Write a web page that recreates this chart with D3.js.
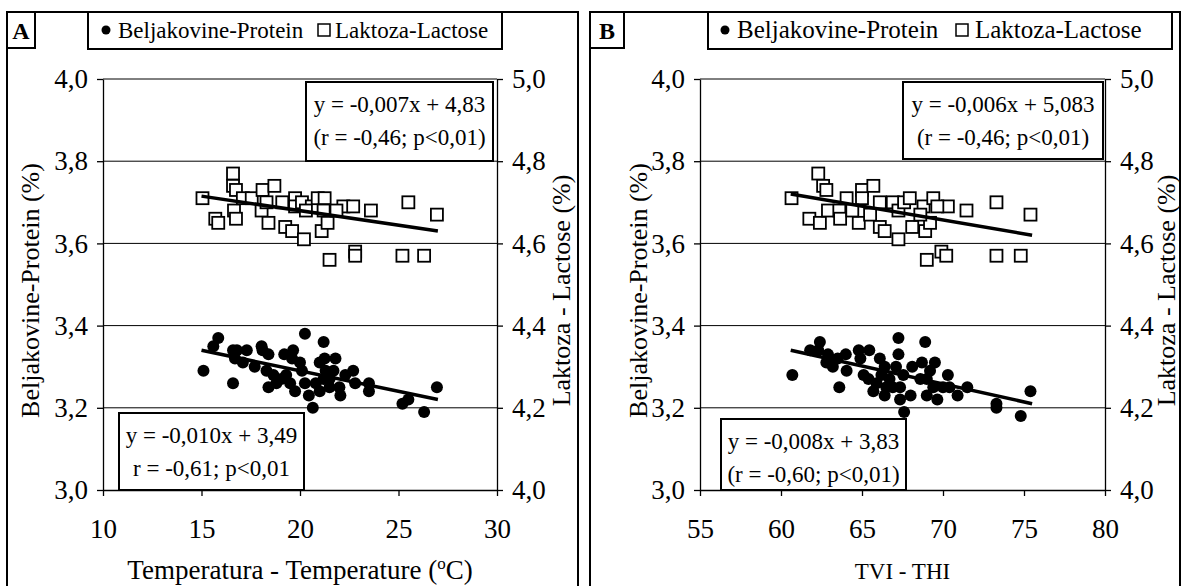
<!DOCTYPE html>
<html lang="en">
<head>
<meta charset="UTF-8">
<script src="https://d3js.org/d3.v7.min.js"></script>
<title>Protein and lactose vs temperature and THI</title>
<style>
  body { margin: 0; background: #fff; }
  svg text { font-family: "Liberation Serif", "Times New Roman", serif; fill: #000; }
</style>
</head>
<body>
<svg id="chart" width="1187" height="586"></svg>
<script>
// ---- data ----
// panel A: temperature (°C)
const tempProtein = [[15.1,3.29],[15.6,3.35],[15.85,3.37],[16.6,3.34],[16.8,3.34],[16.7,3.32],[17.1,3.31],[17.3,3.34],[16.6,3.26],[17.7,3.30],
  [18.05,3.35],[18.1,3.34],[18.4,3.33],[18.3,3.29],[18.65,3.28],[18.4,3.25],[18.8,3.26],[19.2,3.33],[19.3,3.28],[19.65,3.34],
  [19.6,3.32],[19.5,3.26],[19.75,3.24],[20.0,3.31],[20.1,3.29],[20.25,3.38],[20.25,3.26],[20.45,3.23],[20.65,3.20],[21.0,3.31],
  [21.2,3.36],[21.25,3.32],[21.0,3.24],[21.3,3.29],[21.2,3.27],[21.5,3.25],[21.7,3.29],[21.8,3.32],[22.0,3.25],[22.05,3.23],
  [22.3,3.28],[22.7,3.29],[22.8,3.26],[23.5,3.26],[23.5,3.24],[25.2,3.21],[25.5,3.22],[26.3,3.19],[26.95,3.25],[19.05,3.27],
  [20.8,3.26],[21.5,3.27]];
const tempLactose = [[15.05,4.71],[16.6,4.77],[16.6,4.74],[16.75,4.73],[15.7,4.66],[15.85,4.65],[16.65,4.68],[16.75,4.66],[17.1,4.71],[17.55,4.71],
  [18.1,4.73],[18.7,4.74],[18.05,4.68],[18.4,4.65],[18.3,4.70],[19.1,4.70],[19.25,4.64],[19.6,4.63],[19.75,4.71],[19.75,4.69],
  [20.1,4.70],[20.2,4.61],[20.6,4.69],[20.9,4.71],[21.25,4.71],[21.2,4.68],[21.1,4.63],[21.4,4.65],[21.5,4.56],[22.2,4.69],
  [22.7,4.69],[22.8,4.58],[22.8,4.57],[23.6,4.68],[25.5,4.70],[25.2,4.57],[26.3,4.57],[26.95,4.67],[21.85,4.68],[20.3,4.68]];
const tempTrendProtein = [[15.0,3.34],[27.0,3.22]];
const tempTrendLactose = [[15.0,4.715],[27.0,4.63]];

// panel B: THI
const thiProtein = [[60.7,3.28],[61.8,3.34],[62.4,3.36],[62.3,3.34],[62.9,3.33],[62.8,3.31],[63.2,3.30],[63.6,3.25],[63.5,3.32],[64.0,3.33],
  [64.05,3.29],[64.8,3.34],[64.9,3.32],[65.45,3.34],[65.1,3.28],[65.4,3.27],[66.1,3.32],[66.4,3.30],[65.7,3.24],[65.9,3.26],
  [66.4,3.23],[66.5,3.25],[66.9,3.25],[67.25,3.37],[67.25,3.33],[67.1,3.30],[67.35,3.25],[67.35,3.22],[67.6,3.19],[67.55,3.28],
  [68.0,3.23],[68.1,3.30],[68.7,3.31],[68.9,3.36],[69.2,3.29],[69.5,3.31],[69.0,3.27],[69.0,3.23],[69.4,3.25],[69.65,3.22],
  [70.0,3.25],[70.3,3.28],[70.4,3.25],[70.9,3.23],[71.5,3.25],[73.3,3.21],[73.3,3.20],[74.8,3.18],[75.4,3.24],[68.6,3.27],
  [66.2,3.28],[66.7,3.27]];
const thiLactose = [[60.65,4.71],[62.3,4.77],[62.6,4.74],[62.8,4.73],[61.75,4.66],[62.4,4.65],[62.9,4.68],[63.6,4.68],[63.65,4.66],[64.05,4.71],
  [64.8,4.65],[65.0,4.73],[65.7,4.74],[65.0,4.71],[65.5,4.67],[66.1,4.70],[66.1,4.64],[66.4,4.63],[66.9,4.70],[67.25,4.61],
  [67.25,4.68],[67.6,4.70],[68.1,4.64],[67.95,4.71],[68.8,4.69],[69.4,4.71],[68.9,4.63],[69.2,4.65],[69.0,4.56],[69.9,4.58],
  [70.2,4.57],[70.3,4.69],[69.65,4.69],[71.45,4.68],[73.3,4.70],[73.3,4.57],[74.8,4.57],[75.4,4.67],[68.6,4.67],[64.4,4.68]];
const thiTrendProtein = [[60.6,3.34],[75.5,3.21]];
const thiTrendLactose = [[60.6,4.72],[75.5,4.62]];

const proteinTicks = [3.0,3.2,3.4,3.6,3.8,4.0];
const lactoseTicks = [4.0,4.2,4.4,4.6,4.8,5.0];
const tempTicks = [10,15,20,25,30];
const thiTicks = [55,60,65,70,75,80];

const legendLabels = ["Beljakovine-Protein", "Laktoza-Lactose"];
const leftTitle = "Beljakovine-Protein (%)";
const rightTitle = "Laktoza - Lactose (%)";

// ---- layout ----
const serif = '"Liberation Serif", "Times New Roman", serif';
const panels = [
  {
    letter: "A", frame: [7, 12, 578], letterBox: [7, 35],
    legendBox: [88, 502], legend: { size: 23, dot: 18, t1: 30, sq: 230, t2: 247 },
    xDomain: [10, 30], xTicks: tempTicks, xRange: [103, 497],
    protein: tempProtein, lactose: tempLactose,
    trendP: tempTrendProtein, trendL: tempTrendLactose,
    xTitle: ["Temperatura - Temperature (", "o", "C)"], xTitleSize: 27,
    leftTitleX: 30, rightTitleX: 561,
    eqTop: { box: [306, 82, 493, 161], lines: ["y = -0,007x + 4,83", "(r = -0,46; p<0,01)"] },
    eqBot: { box: [119, 413, 304, 490], lines: ["y = -0,010x + 3,49", "r = -0,61; p<0,01"] }
  },
  {
    letter: "B", frame: [590, 12, 1180], letterBox: [590, 624],
    legendBox: [708, 1172], legend: { size: 25, dot: 17, t1: 29, sq: 248, t2: 267 },
    xDomain: [55, 80], xTicks: thiTicks, xRange: [700, 1105],
    protein: thiProtein, lactose: thiLactose,
    trendP: thiTrendProtein, trendL: thiTrendLactose,
    xTitle: ["TVI - THI"], xTitleSize: 23,
    leftTitleX: 638, rightTitleX: 1166,
    eqTop: { box: [903, 82, 1103, 159], lines: ["y = -0,006x + 5,083", "(r = -0,46; p<0,01)"] },
    eqBot: { box: [721, 419, 906, 490], lines: ["y = -0,008x + 3,83", "(r = -0,60; p<0,01)"] }
  }
];

const yTop = 79, yBottom = 490;
const comma = d => d3.format(".1f")(d).replace(".", ",");
const svg = d3.select("#chart");

panels.forEach(p => {
  const g = svg.append("g");
  const x = d3.scaleLinear().domain(p.xDomain).range(p.xRange);
  const yL = d3.scaleLinear().domain([3, 4]).range([yBottom, yTop]);
  const yR = d3.scaleLinear().domain([4, 5]).range([yBottom, yTop]);

  // outer frame (runs off the bottom of the picture)
  g.append("rect")
    .attr("x", p.frame[0]).attr("y", p.frame[1])
    .attr("width", p.frame[2] - p.frame[0]).attr("height", 600)
    .attr("fill", "none").attr("stroke", "#000").attr("stroke-width", 2);

  // panel letter box
  g.append("rect")
    .attr("x", p.letterBox[0]).attr("y", 12)
    .attr("width", p.letterBox[1] - p.letterBox[0]).attr("height", 36)
    .attr("fill", "#fff").attr("stroke", "#000").attr("stroke-width", 2);
  g.append("text")
    .attr("x", (p.letterBox[0] + p.letterBox[1]) / 2).attr("y", 39)
    .attr("text-anchor", "middle").attr("font-size", 24).attr("font-weight", "bold")
    .attr("font-family", serif)
    .text(p.letter);

  // legend
  const lg = p.legend, lx = p.legendBox[0];
  g.append("rect")
    .attr("x", lx).attr("y", 12)
    .attr("width", p.legendBox[1] - lx).attr("height", 37)
    .attr("fill", "#fff").attr("stroke", "#000").attr("stroke-width", 2);
  g.append("circle").attr("cx", lx + lg.dot).attr("cy", 30).attr("r", 4.5).attr("fill", "#000");
  g.append("text").attr("x", lx + lg.t1).attr("y", 38).attr("font-size", lg.size)
    .attr("font-family", serif).text(legendLabels[0]);
  g.append("rect").attr("x", lx + lg.sq).attr("y", 24).attr("width", 12).attr("height", 12)
    .attr("fill", "#fff").attr("stroke", "#000").attr("stroke-width", 1.5);
  g.append("text").attr("x", lx + lg.t2).attr("y", 38).attr("font-size", lg.size)
    .attr("font-family", serif).text(legendLabels[1]);

  // gridlines
  g.append("g").selectAll("line")
    .data(proteinTicks.slice(1))
    .join("line")
    .attr("x1", p.xRange[0]).attr("x2", p.xRange[1])
    .attr("y1", d => yL(d)).attr("y2", d => yL(d))
    .attr("stroke", "#000").attr("stroke-width", 1);

  // axes
  const axisStyle = a => {
    a.attr("font-family", serif);
    a.selectAll("path, line").attr("stroke", "#000").attr("stroke-width", 1.3);
    a.selectAll("text").attr("font-size", 27).attr("font-family", serif);
  };
  g.append("g")
    .attr("transform", `translate(${p.xRange[0]},0)`)
    .call(d3.axisLeft(yL).tickValues(proteinTicks).tickFormat(comma).tickSize(6).tickSizeOuter(0).tickPadding(9))
    .call(axisStyle);
  g.append("g")
    .attr("transform", `translate(${p.xRange[1]},0)`)
    .call(d3.axisRight(yR).tickValues(lactoseTicks).tickFormat(comma).tickSize(6).tickSizeOuter(0).tickPadding(9))
    .call(axisStyle);
  g.append("g")
    .attr("transform", `translate(0,${yBottom})`)
    .call(d3.axisBottom(x).tickValues(p.xTicks).tickFormat(d3.format("d")).tickSize(6).tickSizeOuter(0).tickPadding(23))
    .call(axisStyle);

  // axis titles
  const xt = g.append("text")
    .attr("x", (p.xRange[0] + p.xRange[1]) / 2).attr("y", 579)
    .attr("text-anchor", "middle").attr("font-size", p.xTitleSize).attr("font-family", serif);
  xt.append("tspan").text(p.xTitle[0]);
  if (p.xTitle.length > 1) {
    xt.append("tspan").attr("dy", -10).attr("font-size", 17).text(p.xTitle[1]);
    xt.append("tspan").attr("dy", 10).text(p.xTitle[2]);
  }
  g.append("text")
    .attr("transform", `translate(${p.leftTitleX},${(yTop + yBottom) / 2 + 6}) rotate(-90)`)
    .attr("text-anchor", "middle").attr("dy", "0.35em").attr("font-size", 26)
    .attr("font-family", serif)
    .text(leftTitle);
  g.append("text")
    .attr("transform", `translate(${p.rightTitleX},${(yTop + yBottom) / 2 + 6}) rotate(-90)`)
    .attr("text-anchor", "middle").attr("dy", "0.35em").attr("font-size", 26)
    .attr("font-family", serif)
    .text(rightTitle);

  // lactose squares (right axis)
  g.append("g").selectAll("rect")
    .data(p.lactose)
    .join("rect")
    .attr("x", d => x(d[0]) - 6).attr("y", d => yR(d[1]) - 6)
    .attr("width", 12).attr("height", 12)
    .attr("fill", "#fff").attr("stroke", "#000").attr("stroke-width", 1.8);

  // protein dots (left axis)
  g.append("g").selectAll("circle")
    .data(p.protein)
    .join("circle")
    .attr("cx", d => x(d[0])).attr("cy", d => yL(d[1]))
    .attr("r", 6).attr("fill", "#000");

  // trend lines
  const lineL = d3.line().x(d => x(d[0])).y(d => yL(d[1]));
  const lineR = d3.line().x(d => x(d[0])).y(d => yR(d[1]));
  g.append("path").attr("d", lineL(p.trendP)).attr("fill", "none").attr("stroke", "#000").attr("stroke-width", 3.5);
  g.append("path").attr("d", lineR(p.trendL)).attr("fill", "none").attr("stroke", "#000").attr("stroke-width", 3.5);

  // equation boxes
  [p.eqTop, p.eqBot].forEach(eq => {
    const [x0, y0, x1, y1] = eq.box;
    g.append("rect")
      .attr("x", x0).attr("y", y0).attr("width", x1 - x0).attr("height", y1 - y0)
      .attr("fill", "#fff").attr("stroke", "#000").attr("stroke-width", 2);
    g.append("text")
      .attr("x", (x0 + x1) / 2).attr("y", y0 + 30)
      .attr("text-anchor", "middle").attr("font-size", 23).attr("font-family", serif)
      .selectAll("tspan").data(eq.lines).join("tspan")
      .attr("x", (x0 + x1) / 2).attr("dy", (d, i) => i ? 33 : 0)
      .text(d => d);
  });
});
</script>
</body>
</html>
